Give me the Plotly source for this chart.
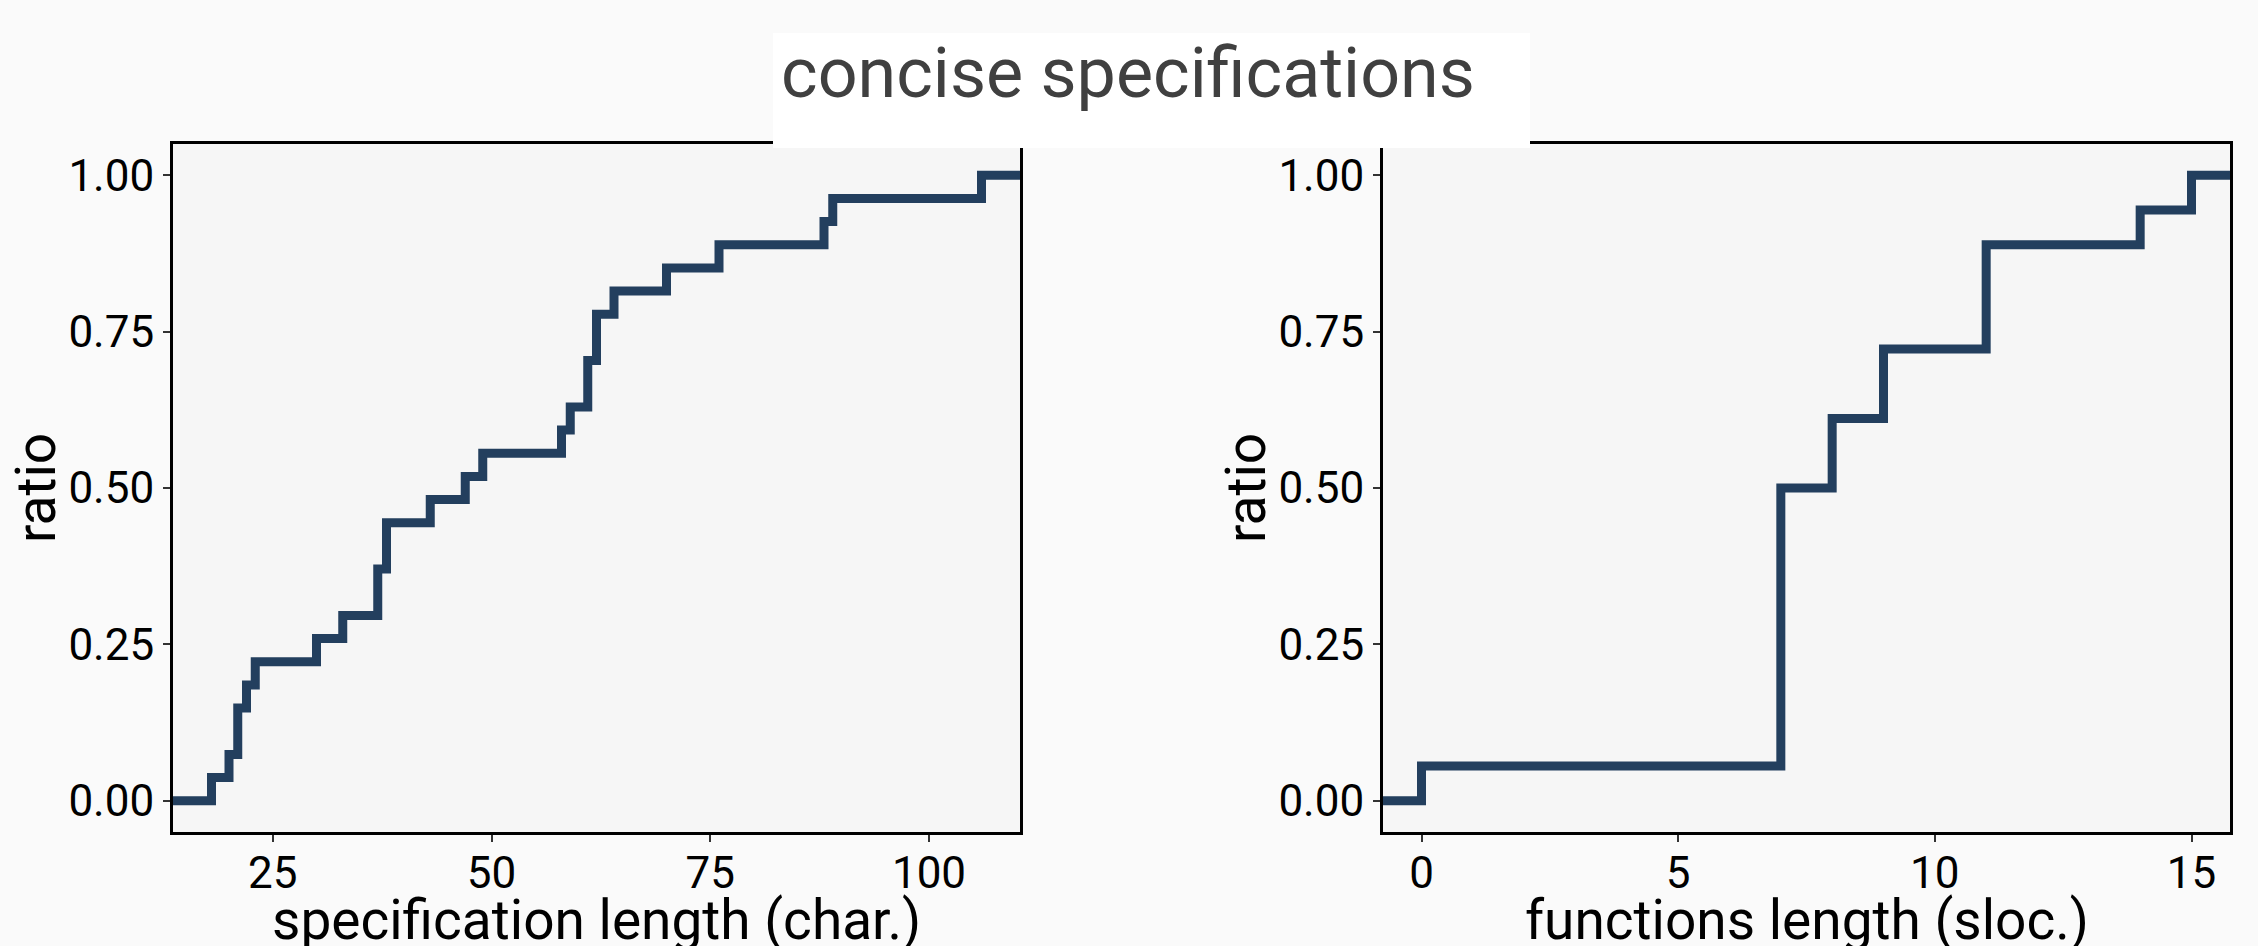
import numpy as np
import plotly.graph_objects as go

# ---- data ----
spec_length_chars = [18, 20, 21, 21, 22, 23, 30, 33, 37, 37, 38, 38, 43, 47, 49,
                     58, 59, 61, 61, 62, 62, 64, 70, 76, 88, 89, 106]
func_length_sloc = [0, 7, 7, 7, 7, 7, 7, 7, 7, 8, 8, 9, 9, 11, 11, 11, 14, 15]

x_ticks_left = [25, 50, 75, 100]
x_ticks_right = [0, 5, 10, 15]
y_ticks = [0.0, 0.25, 0.5, 0.75, 1.0]
y_tick_labels = ["0.00", "0.25", "0.50", "0.75", "1.00"]

title_text = "concise specifications"
xlabel_left = "specification length (char.)"
xlabel_right = "functions length (sloc.)"
ylabel = "ratio"

LINE_COLOR = "#233f5e"
FONT = "Roboto"


def ecdf_with_pad(values, expand=0.05):
    v = np.sort(np.asarray(values, dtype=float))
    uniq, counts = np.unique(v, return_counts=True)
    frac = np.cumsum(counts) / len(v)
    span = uniq[-1] - uniq[0]
    lo, hi = uniq[0] - expand * span, uniq[-1] + expand * span
    xs = np.concatenate([[lo], uniq, [hi]])
    ys = np.concatenate([[0.0], frac, [1.0]])
    return xs, ys, (lo, hi)


xl, yl, rng_l = ecdf_with_pad(spec_length_chars)
xr, yr, rng_r = ecdf_with_pad(func_length_sloc)

fig = go.Figure()
fig.add_trace(go.Scatter(x=xl, y=yl, mode="lines", line=dict(shape="hv", color=LINE_COLOR, width=9),
                         xaxis="x", yaxis="y", showlegend=False, hoverinfo="skip"))
fig.add_trace(go.Scatter(x=xr, y=yr, mode="lines", line=dict(shape="hv", color=LINE_COLOR, width=9),
                         xaxis="x2", yaxis="y2", showlegend=False, hoverinfo="skip"))

W, H = 2258, 946
PL, PR = 173, 1020          # left panel pixel extents
QL, QR = 1383, 2230         # right panel pixel extents
PT, PB = 144, 832           # panel top / bottom
left_dom = [PL / W, PR / W]
right_dom = [QL / W, QR / W]
y_dom = [(H - PB) / H, (H - PT) / H]

axis_common = dict(
    showline=True, linecolor="black", linewidth=3, mirror=True,
    ticks="outside", ticklen=7, tickwidth=2, tickcolor="#333333",
    showgrid=False, zeroline=False,
    tickfont=dict(family=FONT, size=44, color="black"),
    automargin=False,
)

yrange = [-0.05, 1.05]


def px(x):
    return x / W


def py(y):
    return (H - y) / H


axis_title_font = dict(family=FONT, size=55, color="black")

fig.update_layout(
    width=W, height=H,
    margin=dict(l=0, r=0, t=0, b=0),
    paper_bgcolor="#fafafa",
    plot_bgcolor="#f6f6f6",
    font=dict(family=FONT),
    xaxis=dict(domain=left_dom, anchor="y", range=list(rng_l), tickvals=x_ticks_left,
               ticklabelstandoff=-7, **axis_common),
    yaxis=dict(domain=y_dom, anchor="x", range=yrange, tickvals=y_ticks, ticktext=y_tick_labels, **axis_common),
    xaxis2=dict(domain=right_dom, anchor="y2", range=list(rng_r), tickvals=x_ticks_right,
                ticklabelstandoff=-7, **axis_common),
    yaxis2=dict(domain=y_dom, anchor="x2", range=yrange, tickvals=y_ticks, ticktext=y_tick_labels, **axis_common),
    shapes=[
        dict(type="rect", xref="paper", yref="paper", x0=px(773), x1=px(1530),
             y0=py(148), y1=py(33), fillcolor="white", line=dict(width=0), layer="above"),
    ],
    annotations=[
        dict(text=title_text, xref="paper", yref="paper", x=px(1128), y=py(73),
             xanchor="center", yanchor="middle", showarrow=False,
             font=dict(family=FONT, size=70, color="#404040")),
        dict(text=xlabel_left, xref="paper", yref="paper", x=px((PL + PR) / 2), y=py(920),
             xanchor="center", yanchor="middle", showarrow=False, font=axis_title_font),
        dict(text=xlabel_right, xref="paper", yref="paper", x=px((QL + QR) / 2), y=py(920),
             xanchor="center", yanchor="middle", showarrow=False, font=axis_title_font),
        dict(text=ylabel, xref="paper", yref="paper", x=px(36), y=py((PT + PB) / 2),
             xanchor="center", yanchor="middle", showarrow=False, textangle=-90, font=axis_title_font),
        dict(text=ylabel, xref="paper", yref="paper", x=px(36 + QL - PL), y=py((PT + PB) / 2),
             xanchor="center", yanchor="middle", showarrow=False, textangle=-90, font=axis_title_font),
    ],
)

fig.write_html("out.html", config={"displayModeBar": False},
               post_script="document.body.style.margin='0px';document.body.style.background='#fafafa';")
